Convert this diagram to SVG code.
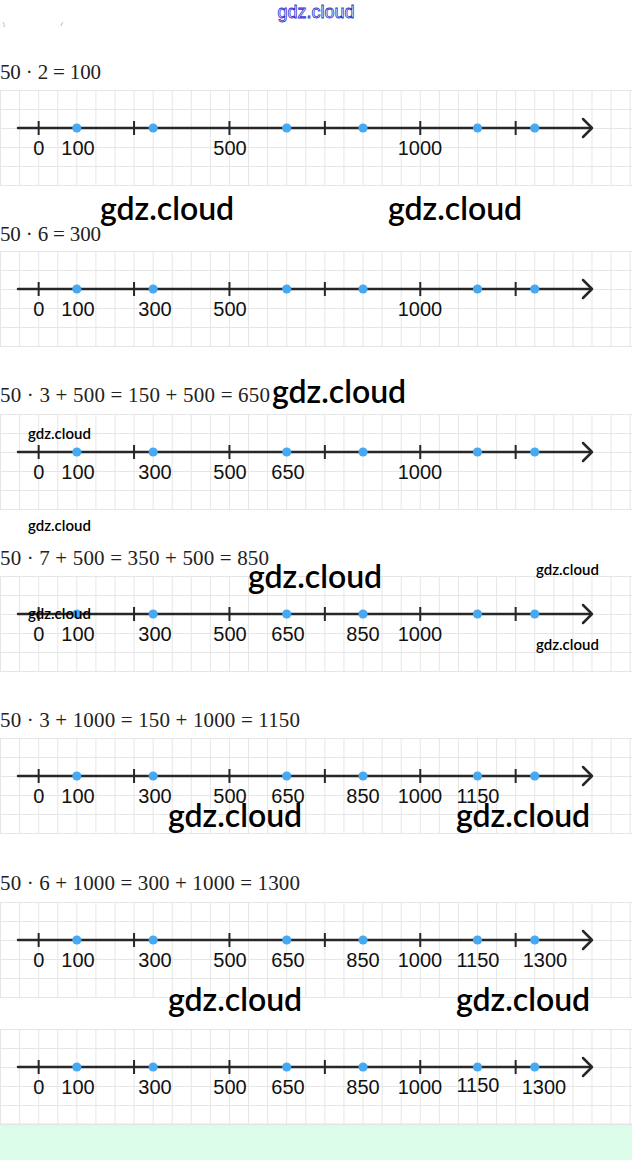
<svg xmlns="http://www.w3.org/2000/svg" xmlns:xlink="http://www.w3.org/1999/xlink" width="632" height="1160" viewBox="0 0 632 1160">
<defs>
<style>
.grid{stroke:#e6e6e6;stroke-width:1;fill:none}
.axis{stroke:#272727;stroke-width:2.5;fill:none;stroke-linecap:round;stroke-linejoin:round}
.tick{stroke:#272727;stroke-width:2;fill:none}
.dot{fill:#46a9f1}
.lbl{font-family:"Liberation Sans",Arial,sans-serif;font-size:20px;fill:#111;text-anchor:middle}
.eq{font-family:"Liberation Serif","Times New Roman",serif;font-size:21px;fill:#222}
.wm{font-family:Lato,"Open Sans",sans-serif;font-weight:600;fill:#000}
.wmL{font-size:32px}
.wmS{font-size:15px}
.top{font-family:"Liberation Sans",Arial,sans-serif;font-size:18px;fill:#fff;stroke:#3030d0;stroke-width:0.8;text-anchor:middle}
</style>
<g id="grid">
<path class="grid" d="M0 0.5H632M0 19.5H632M0 38.5H632M0 57.5H632M0 76.5H632M0 95.5H632
M0.5 0V95M19.58 0V95M38.66 0V95M57.74 0V95M76.82 0V95M95.9 0V95M114.98 0V95M134.06 0V95M153.14 0V95M172.22 0V95M191.3 0V95M210.38 0V95M229.46 0V95M248.54 0V95M267.62 0V95M286.7 0V95M305.78 0V95M324.86 0V95M343.94 0V95M363.02 0V95M382.1 0V95M401.18 0V95M420.26 0V95M439.34 0V95M458.42 0V95M477.5 0V95M496.58 0V95M515.66 0V95M534.74 0V95M553.82 0V95M572.9 0V95M591.98 0V95M611.06 0V95M630.14 0V95"/>
</g>
<g id="axis">
<path class="axis" d="M18 38H591"/>
<path class="axis" d="M583 29L592 38L583 47"/>
<path class="tick" d="M38.66 31V45M134.06 31V45M229.46 31V45M324.86 31V45M420.26 31V45M515.66 31V45"/>
<circle class="dot" cx="76.82" cy="38" r="4.6"/>
<circle class="dot" cx="153.14" cy="38" r="4.6"/>
<circle class="dot" cx="286.7" cy="38" r="4.6"/>
<circle class="dot" cx="363.02" cy="38" r="4.6"/>
<circle class="dot" cx="477.5" cy="38" r="4.6"/>
<circle class="dot" cx="534.74" cy="38" r="4.6"/>
</g>
</defs>
<rect width="632" height="1160" fill="#fff"/>
<rect x="0" y="1123" width="632" height="37" fill="#dcfcea"/>

<g id="marks">
<path d="M3 22q2 2 1 5" stroke="#bbb" stroke-width="1" fill="none"/>
<path d="M63 22q-2 2 -2 4" stroke="#bbb" stroke-width="1" fill="none"/>
</g>

<g id="equations">
<text class="eq" x="0" y="79" textLength="101" lengthAdjust="spacing">50 · 2 = 100</text>
<text class="eq" x="0" y="241" textLength="101" lengthAdjust="spacing">50 · 6 = 300</text>
<text class="eq" x="0" y="402" textLength="270" lengthAdjust="spacing">50 · 3 + 500 = 150 + 500 = 650</text>
<text class="eq" x="0" y="565" textLength="269" lengthAdjust="spacing">50 · 7 + 500 = 350 + 500 = 850</text>
<text class="eq" x="0" y="727" textLength="300" lengthAdjust="spacing">50 · 3 + 1000 = 150 + 1000 = 1150</text>
<text class="eq" x="0" y="890" textLength="300" lengthAdjust="spacing">50 · 6 + 1000 = 300 + 1000 = 1300</text>
</g>

<g id="line1" transform="translate(0,90)">
<use xlink:href="#grid" href="#grid"/>
<use xlink:href="#axis" href="#axis"/>
<text class="lbl" x="38.7" y="65">0</text>
<text class="lbl" x="78" y="65">100</text>
<text class="lbl" x="230" y="65">500</text>
<text class="lbl" x="420" y="65">1000</text>
</g>

<g id="line2" transform="translate(0,251)">
<use xlink:href="#grid" href="#grid"/>
<use xlink:href="#axis" href="#axis"/>
<text class="lbl" x="38.7" y="65">0</text>
<text class="lbl" x="78" y="65">100</text>
<text class="lbl" x="155" y="65">300</text>
<text class="lbl" x="230" y="65">500</text>
<text class="lbl" x="420" y="65">1000</text>
</g>

<g id="line3" transform="translate(0,414)">
<use xlink:href="#grid" href="#grid"/>
<use xlink:href="#axis" href="#axis"/>
<text class="lbl" x="38.7" y="65">0</text>
<text class="lbl" x="78" y="65">100</text>
<text class="lbl" x="155" y="65">300</text>
<text class="lbl" x="230" y="65">500</text>
<text class="lbl" x="288" y="65">650</text>
<text class="lbl" x="420" y="65">1000</text>
</g>

<g id="line4" transform="translate(0,576)">
<use xlink:href="#grid" href="#grid"/>
<use xlink:href="#axis" href="#axis"/>
<text class="lbl" x="38.7" y="65">0</text>
<text class="lbl" x="78" y="65">100</text>
<text class="lbl" x="155" y="65">300</text>
<text class="lbl" x="230" y="65">500</text>
<text class="lbl" x="288" y="65">650</text>
<text class="lbl" x="363" y="65">850</text>
<text class="lbl" x="420" y="65">1000</text>
</g>

<g id="line5" transform="translate(0,738)">
<use xlink:href="#grid" href="#grid"/>
<use xlink:href="#axis" href="#axis"/>
<text class="lbl" x="38.7" y="65">0</text>
<text class="lbl" x="78" y="65">100</text>
<text class="lbl" x="155" y="65">300</text>
<text class="lbl" x="230" y="65">500</text>
<text class="lbl" x="288" y="65">650</text>
<text class="lbl" x="363" y="65">850</text>
<text class="lbl" x="420" y="65">1000</text>
<text class="lbl" x="478" y="65">1150</text>
</g>

<g id="line6" transform="translate(0,902)">
<use xlink:href="#grid" href="#grid"/>
<use xlink:href="#axis" href="#axis"/>
<text class="lbl" x="38.7" y="65">0</text>
<text class="lbl" x="78" y="65">100</text>
<text class="lbl" x="155" y="65">300</text>
<text class="lbl" x="230" y="65">500</text>
<text class="lbl" x="288" y="65">650</text>
<text class="lbl" x="363" y="65">850</text>
<text class="lbl" x="420" y="65">1000</text>
<text class="lbl" x="478" y="65">1150</text>
<text class="lbl" x="545" y="65">1300</text>
</g>

<g id="line7" transform="translate(0,1029)">
<use xlink:href="#grid" href="#grid"/>
<use xlink:href="#axis" href="#axis"/>
<text class="lbl" x="38.7" y="65">0</text>
<text class="lbl" x="78" y="65">100</text>
<text class="lbl" x="155" y="65">300</text>
<text class="lbl" x="230" y="65">500</text>
<text class="lbl" x="288" y="65">650</text>
<text class="lbl" x="363" y="65">850</text>
<text class="lbl" x="420" y="65">1000</text>
<text class="lbl" x="478" y="63">1150</text>
<text class="lbl" x="544" y="65">1300</text>
</g>

<g id="watermarks">
<text class="top" x="316" y="18">gdz.cloud</text>
<text class="wm wmL" x="100" y="220">gdz.cloud</text>
<text class="wm wmL" x="388" y="220">gdz.cloud</text>
<text class="wm wmL" x="272" y="403">gdz.cloud</text>
<text class="wm wmL" x="248" y="588">gdz.cloud</text>
<text class="wm wmL" x="168" y="827">gdz.cloud</text>
<text class="wm wmL" x="456" y="827">gdz.cloud</text>
<text class="wm wmL" x="168" y="1011">gdz.cloud</text>
<text class="wm wmL" x="456" y="1011">gdz.cloud</text>
<text class="wm wmS" x="28" y="439">gdz.cloud</text>
<text class="wm wmS" x="28" y="531">gdz.cloud</text>
<text class="wm wmS" x="536" y="575">gdz.cloud</text>
<text class="wm wmS" x="28" y="619">gdz.cloud</text>
<text class="wm wmS" x="536" y="650">gdz.cloud</text>
</g>
</svg>
